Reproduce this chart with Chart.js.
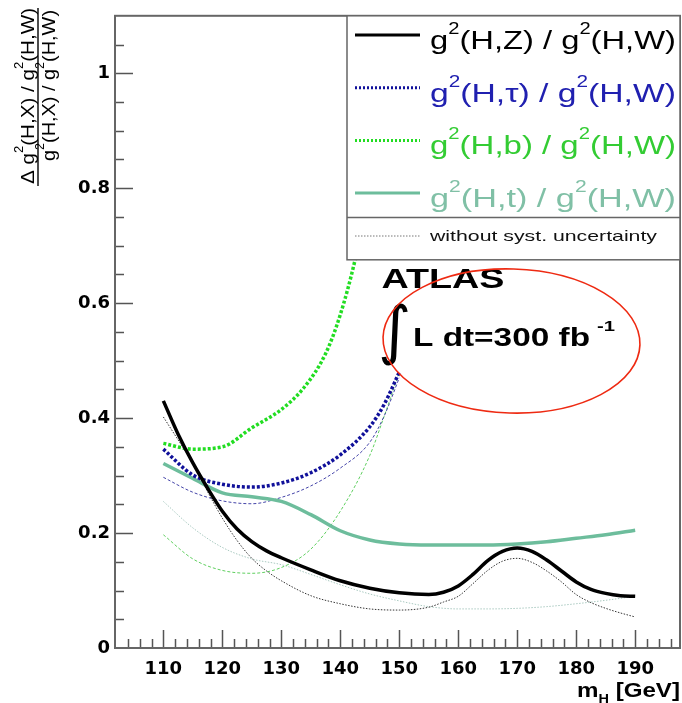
<!DOCTYPE html>
<html>
<head>
<meta charset="utf-8">
<script src="https://cdn.jsdelivr.net/npm/chart.js@4.4.1/dist/chart.umd.min.js"></script>
<style>
  html, body { margin: 0; padding: 0; background: #fff; }
  #chart { display: block; }
</style>
</head>
<body>
<canvas id="chart" width="682" height="703"></canvas>
<script>
// Values (m_H in GeV, relative coupling-ratio error)
const massZ = [110, 112.5, 115, 117.5, 120, 122.5, 125, 127.5, 130, 135, 140, 145, 150, 155, 157.5, 160, 162.5, 165, 167.5, 170, 172.5, 175, 177.5, 180, 182.5, 185, 187.5, 190];
const ratioZ = [0.430, 0.372, 0.322, 0.278, 0.238, 0.207, 0.185, 0.169, 0.157, 0.136, 0.117, 0.104, 0.096, 0.093, 0.097, 0.108, 0.128, 0.152, 0.168, 0.174, 0.168, 0.153, 0.134, 0.115, 0.102, 0.095, 0.091, 0.090];
const ratioZNoSyst = [0.402, 0.362, 0.322, 0.272, 0.226, 0.187, 0.156, 0.134, 0.117, 0.091, 0.077, 0.068, 0.066, 0.071, 0.080, 0.090, 0.112, 0.135, 0.151, 0.156, 0.149, 0.134, 0.115, 0.093, 0.079, 0.069, 0.061, 0.054];

const massLow = [110, 115, 120, 125, 130, 135, 140, 145, 147.5, 150];
const ratioTau = [0.346, 0.301, 0.285, 0.280, 0.287, 0.305, 0.336, 0.385, 0.425, 0.480];
const ratioTauNoSyst = [0.297, 0.271, 0.256, 0.251, 0.262, 0.282, 0.313, 0.358, 0.405, 0.470];
const ratioBNoSyst = [0.197, 0.155, 0.135, 0.130, 0.140, 0.172, 0.238, 0.335, 0.405, 0.480];

const massB = [110, 115, 120, 125, 130, 133.75, 137.5, 140, 142.5, 145];
const ratioB = [0.356, 0.346, 0.350, 0.383, 0.415, 0.452, 0.512, 0.580, 0.675, 0.800];

const massGrid = [110, 115, 120, 125, 130, 135, 140, 145, 150, 155, 160, 165, 170, 175, 180, 185, 190];
const ratioT = [0.321, 0.295, 0.270, 0.263, 0.255, 0.232, 0.204, 0.188, 0.181, 0.179, 0.179, 0.179, 0.181, 0.185, 0.191, 0.197, 0.205];
const ratioTNoSyst = [0.255, 0.209, 0.175, 0.155, 0.145, 0.128, 0.110, 0.094, 0.082, 0.072, 0.068, 0.068, 0.069, 0.072, 0.077, 0.083, 0.090];

const xTickLabels = [110, 120, 130, 140, 150, 160, 170, 180, 190];
const yTickLabels = [0, 0.2, 0.4, 0.6, 0.8, 1];

const SANS = '"Liberation Sans", Arial, Helvetica, sans-serif';

function pts(xs, ys) {
    return xs.map((x, i) => ({ x: x, y: ys[i] }));
}

// draws text made of plain / superscript / subscript parts, stretched to a given width
function drawRich(ctx, parts, x, y, width, size, opts) {
    opts = opts || {};
    const weight = opts.bold ? 'bold ' : '';
    const small = Math.round(size * 0.62);
    const fontOf = p => weight + ((p.sup || p.sub) ? small : size) + 'px ' + (opts.family || SANS);
    let natural = 0;
    parts.forEach(p => { ctx.font = fontOf(p); natural += ctx.measureText(p.t).width; });
    const sx = width ? width / natural : 1;
    ctx.save();
    ctx.translate(x, y);
    if (opts.rotate) ctx.rotate(opts.rotate);
    ctx.scale(sx, 1);
    ctx.fillStyle = opts.color || '#000';
    ctx.textAlign = 'left';
    ctx.textBaseline = 'alphabetic';
    let cx = 0;
    parts.forEach(p => {
        ctx.font = fontOf(p);
        const dy = p.sup ? -size * (opts.supRise || 0.58) : (p.sub ? size * 0.28 : 0);
        ctx.fillText(p.t, cx, dy);
        cx += ctx.measureText(p.t).width;
    });
    ctx.restore();
}

function ratioParts(x) {
    return [{ t: 'g' }, { t: '2', sup: true }, { t: '(H,' + x + ') / g' }, { t: '2', sup: true }, { t: '(H,W)' }];
}

const legendRows = [
    { label: 'Z', color: '#000000', line: '#000000', width: 3, dash: [] },
    { label: 'τ', color: '#2020b0', line: '#10109a', width: 3, dash: [2, 2] },
    { label: 'b', color: '#33cc33', line: '#22dd22', width: 3, dash: [2, 2] },
    { label: 't', color: '#80c0a6', line: '#6dbd9c', width: 3, dash: [] }
];

const decor = {
    id: 'decor',
    afterDatasetsDraw(chart) {
        const ctx = chart.ctx;
        const a = chart.chartArea;
        const xs = chart.scales.x;
        const ys = chart.scales.y;
        ctx.save();

        // tick marks, pointing into the frame
        ctx.strokeStyle = '#555';
        ctx.lineWidth = 1.5;
        ctx.beginPath();
        for (let m = 104; m <= 196; m += 2) {
            const px = Math.round(xs.getPixelForValue(m)) + 0.5;
            const len = (m % 10 === 0) ? 18 : 9;
            ctx.moveTo(px, a.bottom);
            ctx.lineTo(px, a.bottom - len);
        }
        for (let k = 1; k <= 21; k++) {
            const v = k * 0.05;
            const py = Math.round(ys.getPixelForValue(v)) + 0.5;
            const len = (k % 4 === 0) ? 18 : 9;
            ctx.moveTo(a.left, py);
            ctx.lineTo(a.left + len, py);
        }
        ctx.stroke();

        // frame
        ctx.strokeStyle = '#666';
        ctx.lineWidth = 2;
        ctx.strokeRect(a.left, a.top, a.right - a.left, a.bottom - a.top);

        // legend box
        const lx = 347, ly = a.top, lw = a.right - 347, lh = 244;
        ctx.fillStyle = '#fff';
        ctx.fillRect(lx, ly, lw, lh);
        ctx.strokeStyle = '#666';
        ctx.lineWidth = 1.5;
        ctx.strokeRect(lx, ly, lw, lh);
        ctx.beginPath();
        ctx.moveTo(lx, 217.5);
        ctx.lineTo(lx + lw, 217.5);
        ctx.stroke();

        legendRows.forEach((r, i) => {
            const yLine = 35 + i * 52.7;
            ctx.strokeStyle = r.line;
            ctx.lineWidth = r.width;
            ctx.setLineDash(r.dash);
            ctx.beginPath();
            ctx.moveTo(355, yLine);
            ctx.lineTo(420, yLine);
            ctx.stroke();
            ctx.setLineDash([]);
            drawRich(ctx, ratioParts(r.label), 430, 49 + i * 52.7, 246, 26, { color: r.color });
        });
        ctx.strokeStyle = '#777';
        ctx.lineWidth = 1;
        ctx.setLineDash([1.5, 1.5]);
        ctx.beginPath();
        ctx.moveTo(355, 236);
        ctx.lineTo(420, 236);
        ctx.stroke();
        ctx.setLineDash([]);
        drawRich(ctx, [{ t: 'without syst. uncertainty' }], 430, 241, 227, 15, { color: '#111' });

        // ATLAS label
        drawRich(ctx, [{ t: 'ATLAS' }], 381.5, 288, 123, 28, { bold: true });
        ctx.font = '64px "DejaVu Sans", sans-serif';
        ctx.fillStyle = '#000';
        ctx.textAlign = 'left';
        ctx.textBaseline = 'alphabetic';
        ctx.fillText('∫', 378, 352);
        drawRich(ctx, [{ t: 'L dt=300 fb' }], 413, 346, 177, 26, { bold: true });
        drawRich(ctx, [{ t: '-1' }], 597, 331, 18, 15, { bold: true });

        // red ellipse
        ctx.strokeStyle = '#ee2a12';
        ctx.lineWidth = 1.6;
        ctx.beginPath();
        ctx.ellipse(511.5, 341, 128.5, 72, 0.03, 0, Math.PI * 2);
        ctx.stroke();

        // axis titles
        const up = -Math.PI / 2;
        drawRich(ctx, [{ t: 'Δ g' }, { t: '2', sup: true }, { t: '(H,X) / g' }, { t: '2', sup: true }, { t: '(H,W)' }],
            34, 184, 176, 19, { rotate: up });
        ctx.strokeStyle = '#000';
        ctx.lineWidth = 1.4;
        ctx.beginPath();
        ctx.moveTo(38, 186);
        ctx.lineTo(38, 8);
        ctx.stroke();
        drawRich(ctx, ratioParts('X'), 55, 161, 151, 19, { rotate: up });
        drawRich(ctx, [{ t: 'm' }, { t: 'H', sub: true }, { t: ' [GeV]' }], 577, 697, 103, 20, { bold: true });

        ctx.restore();
    }
};

const thin = { borderWidth: 1, pointRadius: 0, cubicInterpolationMode: 'monotone', fill: false };
const thick = { borderWidth: 3.5, pointRadius: 0, cubicInterpolationMode: 'monotone', fill: false, borderCapStyle: 'butt' };

new Chart(document.getElementById('chart'), {
    type: 'line',
    data: {
        datasets: [
            { ...thick, label: 'g2(H,Z) / g2(H,W)', data: pts(massZ, ratioZ), borderColor: '#000' },
            { ...thick, label: 'g2(H,tau) / g2(H,W)', data: pts(massLow, ratioTau), borderColor: '#10109a', borderDash: [3, 2] },
            { ...thick, label: 'g2(H,b) / g2(H,W)', data: pts(massB, ratioB), borderColor: '#22dd22', borderDash: [3, 2] },
            { ...thick, label: 'g2(H,t) / g2(H,W)', data: pts(massGrid, ratioT), borderColor: '#6dbd9c' },
            { ...thin, label: 'Z, without syst.', data: pts(massZ, ratioZNoSyst), borderColor: '#333', borderDash: [1.5, 1.5] },
            { ...thin, label: 'tau, without syst.', data: pts(massLow, ratioTauNoSyst), borderColor: '#4444a8', borderDash: [3, 2] },
            { ...thin, label: 'b, without syst.', data: pts(massLow, ratioBNoSyst), borderColor: '#5fcf5f', borderDash: [3, 2] },
            { ...thin, label: 't, without syst.', data: pts(massGrid, ratioTNoSyst), borderColor: '#a9c9c0', borderDash: [1.5, 1.5] }
        ]
    },
    options: {
        responsive: false,
        animation: false,
        devicePixelRatio: 1,
        events: [],
        layout: { padding: { top: 9, right: 2, left: 0, bottom: 0 } },
        plugins: { legend: { display: false }, tooltip: { enabled: false } },
        scales: {
            x: {
                type: 'linear',
                min: 101.8,
                max: 197.6,
                afterFit: s => { s.height = 55; },
                afterBuildTicks: s => { s.ticks = xTickLabels.map(v => ({ value: v })); },
                grid: { display: false, drawTicks: false },
                border: { display: false },
                ticks: {
                    padding: 11,
                    maxRotation: 0,
                    autoSkip: false,
                    color: '#000',
                    font: { family: '"DejaVu Sans", sans-serif', weight: 'bold', size: 18 }
                }
            },
            y: {
                type: 'linear',
                min: 0,
                max: 1.1,
                afterFit: s => { s.width = 115; },
                afterBuildTicks: s => { s.ticks = yTickLabels.map(v => ({ value: v })); },
                grid: { display: false, drawTicks: false },
                border: { display: false },
                ticks: {
                    padding: 5,
                    autoSkip: false,
                    color: '#000',
                    font: { family: '"DejaVu Sans", sans-serif', weight: 'bold', size: 18 },
                    callback: v => (v === 0 ? '0' : v === 1 ? '1' : v.toFixed(1))
                }
            }
        }
    },
    plugins: [decor]
});
</script>
</body>
</html>
